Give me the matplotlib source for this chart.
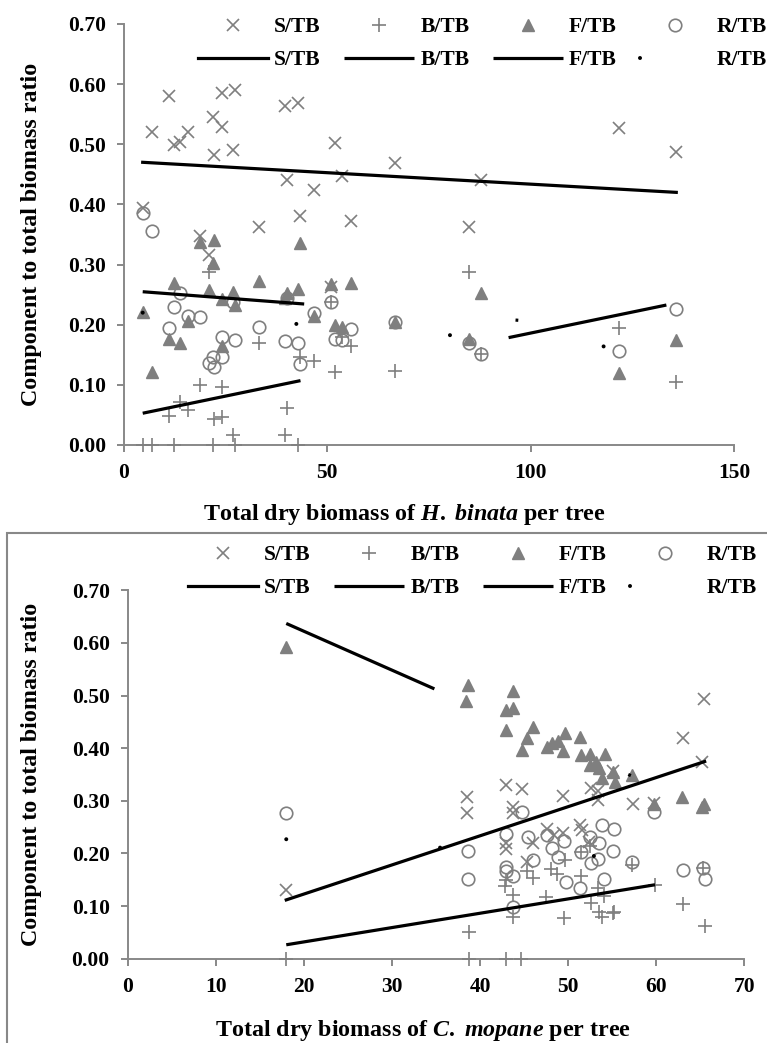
import matplotlib
matplotlib.use("Agg")
import matplotlib.pyplot as plt
from matplotlib.patches import Rectangle
import numpy as np

# ---- data: H. binata (one value per tree) ----
hb_x = [4.6, 6.8, 11.1, 12.3, 13.8, 15.8, 18.7, 21.0, 22.0, 22.1, 24.1, 24.1, 26.8, 27.3,
        33.2, 39.7, 40.2, 42.8, 43.3, 46.7, 50.8, 51.8, 53.5, 55.8, 66.7, 84.8, 87.8,
        121.6, 135.8]
hb_s = [0.394, 0.521, 0.581, 0.499, 0.503, 0.521, 0.348, 0.316, 0.546, 0.483, 0.586, 0.529,
        0.491, 0.591, 0.362, 0.564, 0.441, 0.569, 0.380, 0.424, 0.262, 0.502, 0.448, 0.372,
        0.469, 0.363, 0.441, 0.527, 0.488]
hb_b = [0.000, 0.000, 0.048, 0.000, 0.072, 0.058, 0.100, 0.287, 0.000, 0.043, 0.097, 0.047,
        0.017, 0.000, 0.169, 0.017, 0.061, 0.000, 0.147, 0.139, 0.237, 0.122, 0.180, 0.165,
        0.123, 0.287, 0.151, 0.194, 0.105]
hb_f = [0.221, 0.121, 0.176, 0.269, 0.170, 0.206, 0.338, 0.258, 0.302, 0.341, 0.165, 0.242,
        0.255, 0.233, 0.272, 0.245, 0.252, 0.260, 0.336, 0.214, 0.268, 0.200, 0.197, 0.270,
        0.205, 0.176, 0.252, 0.119, 0.175]
hb_r = [0.385, 0.356, 0.194, 0.230, 0.253, 0.214, 0.213, 0.136, 0.147, 0.129, 0.147, 0.180,
        0.237, 0.175, 0.197, 0.173, 0.245, 0.169, 0.135, 0.220, 0.237, 0.176, 0.175, 0.193,
        0.205, 0.170, 0.151, 0.156, 0.226]
# trendlines (slope, intercept) for S, B, F, R
hb_slope = [-0.000381, 0.001397, -0.000514, -0.000495]
hb_icpt = [0.4718, 0.0464, 0.2572, 0.2223]

# ---- data: C. mopane (points per component) ----
cm_s_x = [18.0, 38.5, 38.5, 43.0, 43.0, 43.0, 43.7, 43.7, 44.8, 45.3, 46.0, 47.6, 48.4, 49.4,
          49.4, 51.3, 51.6, 52.6, 52.4, 53.4, 53.4, 55.05, 57.4, 59.7, 63.0, 65.2, 65.45]
cm_s_y = [0.131, 0.307, 0.277, 0.330, 0.219, 0.208, 0.289, 0.276, 0.322, 0.184, 0.220, 0.246,
          0.235, 0.309, 0.238, 0.254, 0.245, 0.325, 0.221, 0.302, 0.319, 0.357, 0.294, 0.295,
          0.420, 0.373, 0.493]
cm_b_x = [18.0, 38.7, 38.7, 42.8, 42.9, 43.0, 43.7, 43.7, 44.7, 45.3, 46.0, 47.5, 48.1, 48.7,
          49.5, 49.6, 51.5, 51.5, 52.5, 52.6, 53.4, 53.5, 53.8, 54.1, 55.05, 55.2, 57.2, 59.85,
          63.0, 65.5, 65.3]
cm_b_y = [0.000, 0.051, 0.000, 0.138, 0.150, 0.000, 0.121, 0.080, 0.000, 0.167, 0.153, 0.117,
          0.170, 0.161, 0.077, 0.188, 0.157, 0.203, 0.214, 0.106, 0.134, 0.089, 0.079, 0.120,
          0.086, 0.088, 0.178, 0.140, 0.104, 0.062, 0.172]
cm_f_x = [18.0, 38.6, 38.4, 43.7, 42.9, 43.7, 43.0, 46.0, 45.3, 44.8, 47.6, 48.2, 48.9, 49.4,
          49.7, 51.3, 51.5, 52.5, 54.2, 52.5, 53.2, 53.5, 53.8, 55.1, 55.3, 57.3, 62.95, 65.45,
          65.2, 59.7]
cm_f_y = [0.593, 0.520, 0.490, 0.508, 0.473, 0.476, 0.435, 0.440, 0.419, 0.397, 0.403, 0.410,
          0.414, 0.394, 0.429, 0.422, 0.387, 0.389, 0.389, 0.368, 0.374, 0.362, 0.343, 0.355,
          0.336, 0.349, 0.308, 0.294, 0.288, 0.294]
cm_r_x = [18.0, 44.8, 38.6, 38.6, 43.0, 42.9, 42.9, 43.7, 43.7, 45.4, 46.0, 47.6, 48.2, 48.8,
          49.5, 49.8, 51.5, 51.3, 52.5, 52.6, 53.4, 53.5, 53.8, 54.1, 55.05, 55.2, 57.3, 59.7,
          63.0, 65.3, 65.5]
cm_r_y = [0.277, 0.278, 0.205, 0.152, 0.236, 0.175, 0.167, 0.157, 0.099, 0.232, 0.188, 0.235,
          0.210, 0.194, 0.224, 0.146, 0.203, 0.134, 0.231, 0.181, 0.189, 0.2205, 0.254, 0.151,
          0.205, 0.247, 0.183, 0.279, 0.169, 0.172, 0.151]
cm_slope = [0.005535, 0.002724, -0.00739, -0.000912]
cm_icpt = [0.0121, -0.0226, 0.770, 0.2434]

labels = ["S/TB", "B/TB", "F/TB", "R/TB"]

plt.rcParams["font.family"] = ["Liberation Serif", "DejaVu Serif"]
plt.rcParams["font.weight"] = "bold"
plt.rcParams["axes.labelweight"] = "bold"
plt.rcParams["axes.labelsize"] = 17.3
plt.rcParams["font.size"] = 15.5
plt.rcParams["mathtext.fontset"] = "custom"
plt.rcParams["mathtext.it"] = "Liberation Serif:italic:bold"
plt.rcParams["mathtext.rm"] = "Liberation Serif:bold"
plt.rcParams["lines.scale_dashes"] = False

GREY = "#7f7f7f"
AXC = "#888888"
marker_kw = [
    dict(marker="x", ms=9, mew=1.2, color=GREY),
    dict(marker="+", ms=10, mew=1.2, color=GREY),
    dict(marker="^", ms=9, mew=1.0, color=GREY, mfc=GREY),
    dict(marker="o", ms=9, mew=1.2, color=GREY, mfc="none"),
]


def draw_panel(ax, pts, slopes, icpts, trend_styles, xmax, xstep, xlabel, leg_anchor):
    handles = []
    scat = []
    for (xs, ys), kw in zip(pts, marker_kw):
        h, = ax.plot(xs, ys, linestyle="none", clip_on=False, zorder=3, **kw)
        scat.append(h)
    allx = np.concatenate([np.asarray(p[0]) for p in pts])
    xx = np.array([allx.min(), allx.max()])
    lines = []
    for m, b, st in zip(slopes, icpts, trend_styles):
        h, = ax.plot(xx, m * xx + b, color="black", zorder=4, **st)
        lines.append(h)
    for s, l in zip(scat, lines):
        handles += [s, l]
    leg_labels = [lab for lab in labels for _ in range(2)]
    ax.legend(handles, leg_labels, ncol=4, frameon=False, loc="upper left",
              bbox_to_anchor=leg_anchor, bbox_transform=ax.figure.transFigure,
              borderpad=0, borderaxespad=0, handlelength=3.26, handletextpad=0.28,
              columnspacing=1.08, labelspacing=0.6, numpoints=1)

    ax.set_xlim(0, xmax)
    ax.set_ylim(0, 0.70)
    ax.set_xticks(np.arange(0, xmax + 0.1, xstep))
    ax.set_yticks(np.arange(0, 0.71, 0.1))
    ax.set_yticklabels([f"{v:.2f}" for v in np.arange(0, 0.71, 0.1)])
    for side in ["top", "right"]:
        ax.spines[side].set_visible(False)
    for side in ["left", "bottom"]:
        ax.spines[side].set_color(AXC)
        ax.spines[side].set_linewidth(1.4)
    ax.tick_params(direction="out", length=5, width=1.4, color=AXC, pad=8)
    ax.set_ylabel("Component to total biomass ratio")
    ax.set_xlabel(xlabel)


fig = plt.figure(figsize=(7.67, 10.43), dpi=100)

solid = dict(linewidth=2.3, linestyle="-")
dotted = dict(linewidth=2.9, linestyle=(0, (0.01, 110.9)), dash_capstyle="round")
f_style = dict(linewidth=2.3, linestyle=(0, (116.6, 152.6, 2.0, 152.6)))

ax1 = fig.add_axes([0.16167, 0.57335, 0.79531, 0.40364])
draw_panel(ax1,
           [(hb_x, hb_s), (hb_x, hb_b), (hb_x, hb_f), (hb_x, hb_r)],
           hb_slope, hb_icpt,
           [solid, dict(linewidth=2.3, linestyle=(0, (116, 153))), f_style, dotted],
           150, 50, r"Total dry biomass of $\mathit{H.}$ $\mathit{binata}$ per tree",
           (198 / 767, 1 - 17 / 1043))
ax1.xaxis.set_label_coords(0.459, -0.135)
ax1.yaxis.set_label_coords(-0.134, 0.5)

ax2 = fig.add_axes([0.16649, 0.08083, 0.80391, 0.35321])
draw_panel(ax2,
           [(cm_s_x, cm_s_y), (cm_b_x, cm_b_y), (cm_f_x, cm_f_y), (cm_r_x, cm_r_y)],
           cm_slope, cm_icpt,
           [solid, dict(linewidth=2.3, linestyle=(0, (269, 400))), f_style, dotted],
           70, 10, r"Total dry biomass of $\mathit{C.}$ $\mathit{mopane}$ per tree",
           (188 / 767, 1 - 545 / 1043))
ax2.xaxis.set_label_coords(0.479, -0.161)
ax2.yaxis.set_label_coords(-0.139, 0.5)

# frame around the lower chart
fig.patches.append(Rectangle((7 / 767, -0.1), 1.0, 0.1 + 1 - 533 / 1043,
                             transform=fig.transFigure, fill=False,
                             edgecolor=AXC, linewidth=1.5))

fig.savefig("out.png", dpi=100)
